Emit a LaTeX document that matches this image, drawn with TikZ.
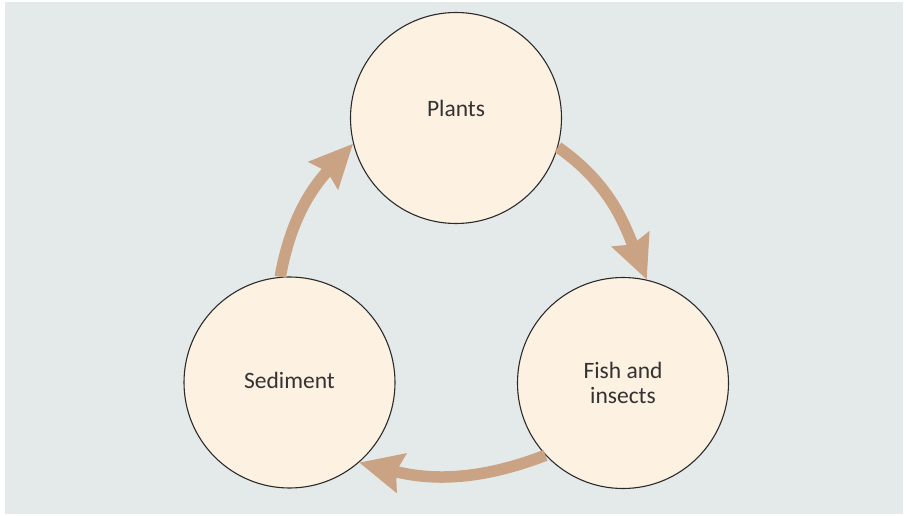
\documentclass[tikz,border=0pt]{standalone}
\usepackage{fontspec}
\setmainfont{Carlito}
\usetikzlibrary{arrows.meta}
\definecolor{bgc}{HTML}{E4EAEA}
\definecolor{circfill}{HTML}{FDF1E2}
\definecolor{circline}{HTML}{2B2B2B}
\definecolor{arrowc}{HTML}{C9A383}
\definecolor{textc}{HTML}{333333}
\tikzset{
  stage/.style={circle, draw=circline, line width=1.1pt, fill=circfill, minimum size=211pt, inner sep=0pt},
  stagetext/.style={text=textc, font=\fontsize{23.5}{24.5}\selectfont, align=center},
  cyclearrow/.style={draw=arrowc, line width=11.5pt, -{Stealth[length=43pt,width=39pt,inset=5pt,fill=arrowc]}}
}
\begin{document}
\begin{tikzpicture}[x=1pt,y=1pt]
\useasboundingbox (0,0) rectangle (906,515);
\fill[bgc] (5,1) rectangle (903,513);
\node[stage] (P) at (456,397) {};
\node[stage] (S) at (289.5,132.5) {};
\node[stage] (F) at (623,132) {};
\node[stagetext] (Pt) at (456,407) {Plants};
\node[stagetext] (St) at (289.5,135) {Sediment};
\node[stagetext] (Ft) at (623,132) {Fish and\\insects};
\draw[cyclearrow] (P.-16) to[out=-35, in=112] (F.77);
\draw[cyclearrow] (F.223) to[out=201, in=-14] (S.-49);
\draw[cyclearrow] (S.95) to[out=80, in=227] (P.194);
\end{tikzpicture}
\end{document}
